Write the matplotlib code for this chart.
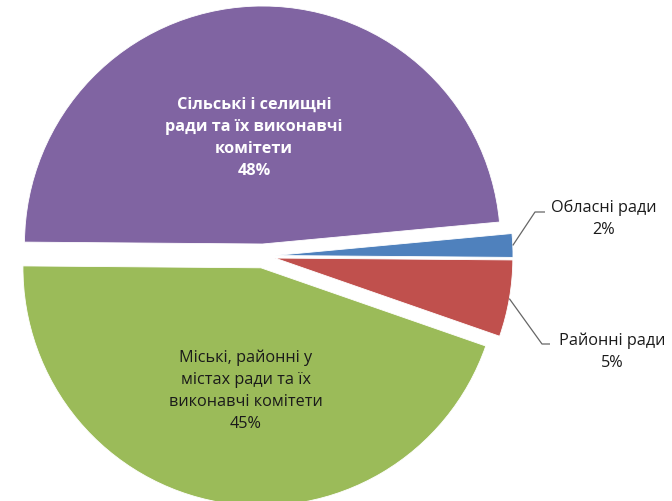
import numpy as np
import matplotlib
matplotlib.use("Agg")
import matplotlib.pyplot as plt

# дані (частки, %)
labels = ["Обласні ради", "Районні ради",
          "Міські, районні у\nмістах ради та їх\nвиконавчі комітети",
          "Сільські і селищні\nради та їх виконавчі\nкомітети"]
values = [1.6, 5.2, 44.8, 48.4]
pct_labels = ["2%", "5%", "45%", "48%"]
colors = ["#4F81BD", "#C0504D", "#9BBB59", "#8064A2"]

plt.rcParams["font.family"] = ["Open Sans", "DejaVu Sans"]

W, H = 672, 502
fig = plt.figure(figsize=(W / 100, H / 100), dpi=100)
ax = fig.add_axes([0, 0, 1, 1])

# explode у matplotlib задається в одиницях осей (тут пікселі)
wedges, _ = ax.pie(values, colors=colors, startangle=5.3, counterclock=False,
                   radius=238, center=(263, H - 257), explode=[12] * 4,
                   wedgeprops=dict(edgecolor="white", linewidth=0.6))
ax.set_xlim(0, W)
ax.set_ylim(0, H)
ax.set_aspect("equal")
ax.axis("off")

fs = 11.7
ls = 1.5
# підписи всередині
ax.text(254, H - 138, labels[3] + "\n" + pct_labels[3], ha="center", va="center",
        color="white", fontsize=fs, fontweight="bold", linespacing=ls)
ax.text(246, H - 391, labels[2] + "\n" + pct_labels[2], ha="center", va="center",
        color="#1a1a1a", fontsize=fs, linespacing=ls)


def arc_point(w):
    mid = np.deg2rad((w.theta1 + w.theta2) / 2)
    return w.center[0] + w.r * np.cos(mid), w.center[1] + w.r * np.sin(mid)


# виноски
for i, elbow, end, txt_xy in [(0, (535, 213), (545, 213), (604, 219)),
                              (1, (542, 345), (550, 345), (612, 352))]:
    sx, sy = arc_point(wedges[i])
    ax.plot([sx, elbow[0], end[0]], [sy, H - elbow[1], H - end[1]],
            color="#666666", lw=0.9, solid_capstyle="butt")
    ax.text(txt_xy[0], H - txt_xy[1], labels[i] + "\n" + pct_labels[i],
            ha="center", va="center", color="#1a1a1a", fontsize=fs,
            linespacing=ls)

fig.savefig("out.png", dpi=100)
